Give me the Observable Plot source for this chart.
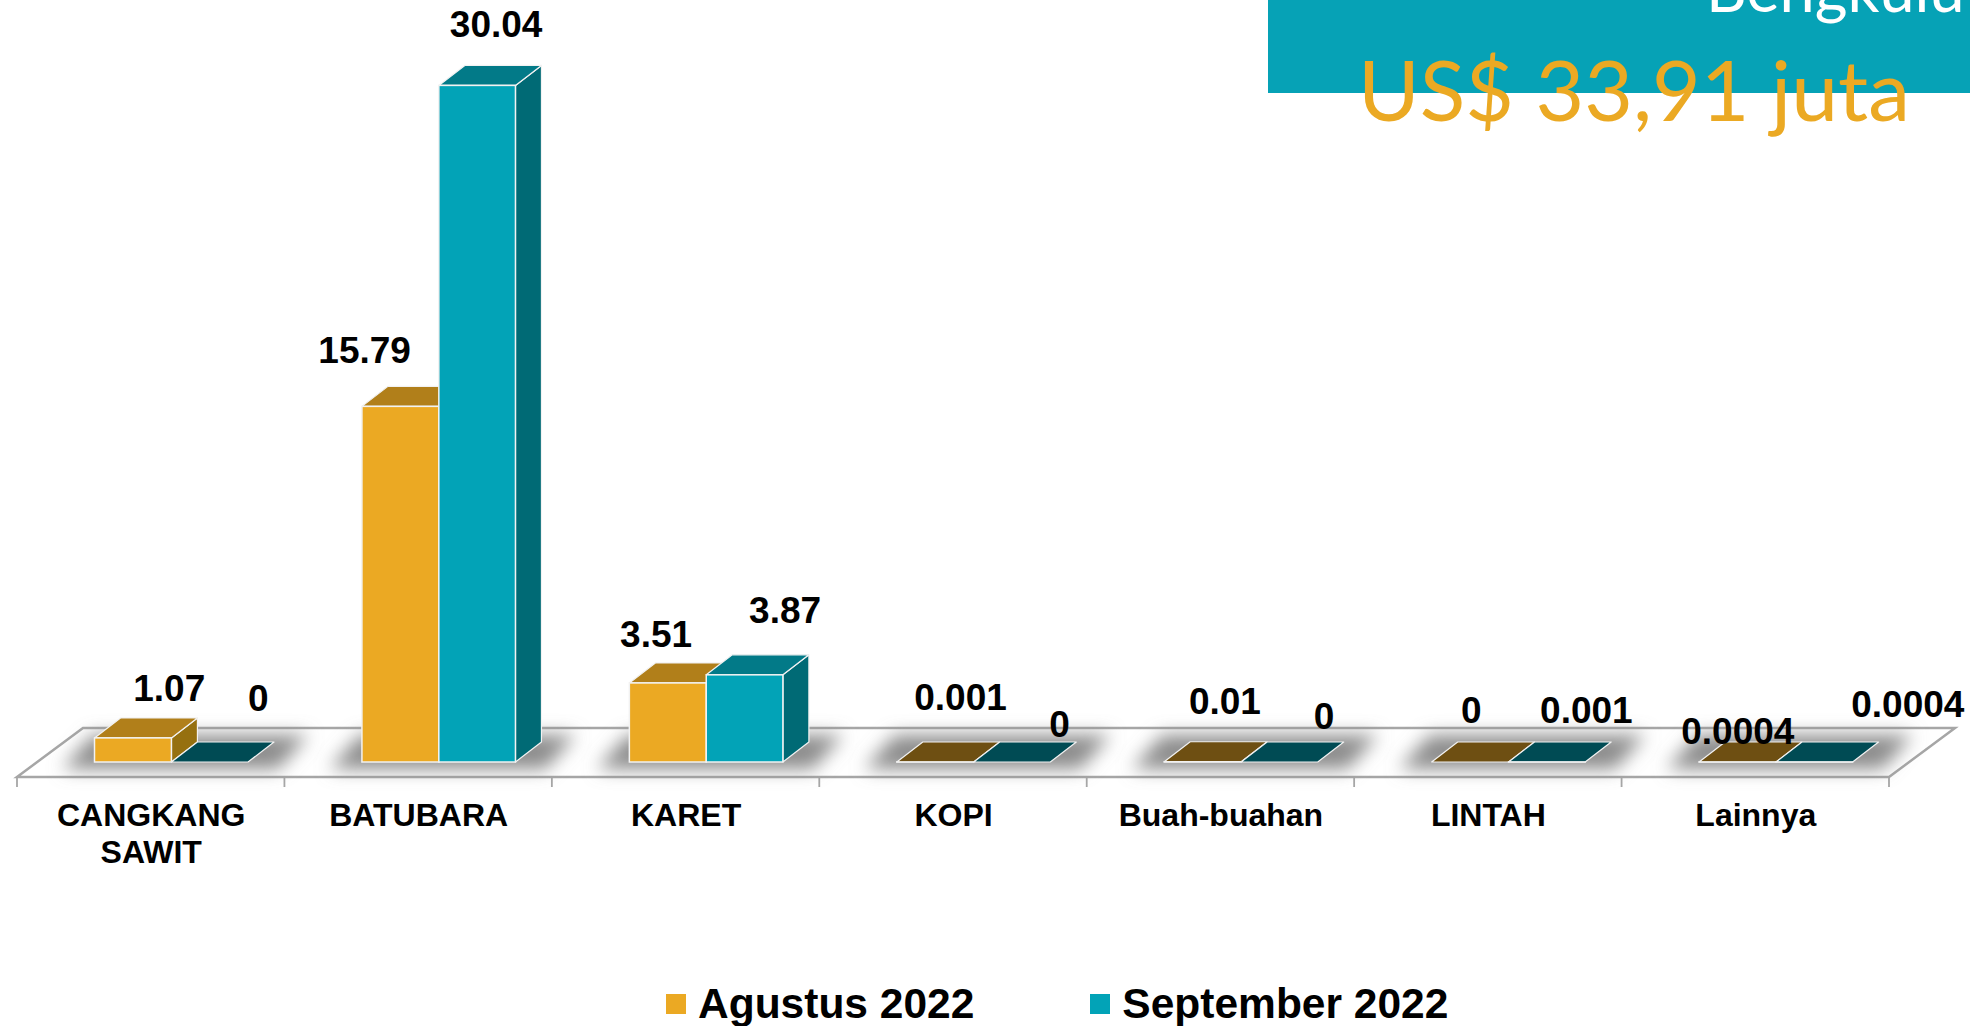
<!DOCTYPE html>
<html>
<head>
<meta charset="utf-8">
<script src="https://cdn.jsdelivr.net/npm/d3@7"></script>
<script src="https://cdn.jsdelivr.net/npm/@observablehq/plot@0.6"></script>
<style>
  html, body { margin: 0; padding: 0; background: #fff; overflow: hidden; width: 1970px; height: 1026px; }
  #chart svg { display: block; }
  #banner { position: absolute; left: 1268px; top: 0; width: 702px; height: 93px; background: #06a2b6; overflow: hidden; }
  #region { position: absolute; white-space: nowrap; font-family: Lato, sans-serif; font-weight: 400; line-height: 1; left: 438px; top: -44px; font-size: 63px; color: #fff; }
  #total { position: absolute; white-space: nowrap; font-family: Lato, sans-serif; font-weight: 400; line-height: 1; left: 1358px; top: 47px; font-size: 84px; color: #eba923; }
  #legend { display: flex; align-items: center; height: 56px; margin-top: 6px; padding-left: 666px; font: bold 42.5px "Liberation Sans", Arial, sans-serif; color: #000; }
  #legend .sw { width: 20px; height: 20px; margin-right: 12px; }
</style>
</head>
<body>
<div id="chart"></div>
<div id="legend"></div>
<div id="banner"><div id="region">Bengkulu</div></div>
<div id="total">US$ 33,91 juta</div>
<script>
const categories = ["CANGKANG SAWIT", "BATUBARA", "KARET", "KOPI", "Buah-buahan", "LINTAH", "Lainnya"];
const agustus = [1.07, 15.79, 3.51, 0.001, 0.01, 0, 0.0004];
const september = [0, 30.04, 3.87, 0, 0, 0.001, 0.0004];
const agustusLabels = ["1.07", "15.79", "3.51", "0.001", "0.01", "0", "0.0004"];
const septemberLabels = ["0", "30.04", "3.87", "0", "0", "0.001", "0.0004"];
const seriesNames = ["Agustus 2022", "September 2022"];

// Label placement, relative to each bar's band centre and value.
const agustusOffsets = [[18, -48.5], [-54, -55.5], [-30, -47.5], [7, -64], [4, -60], [-17, -51], [-18, -30]];
const septemberOffsets = [[107, -62.5], [77.5, -60], [99, -63.4], [106, -37], [103, -45], [98, -51], [152, -57]];

const colors = {
  a: {front: "#eba923", top: "#b17f1a", side: "#96700f", flat: "#6e4f12"},
  s: {front: "#02a3b7", top: "#027a88", side: "#006a75", flat: "#004b54"}
};
const depthX = 26, depthY = 20;
const insets = {a: [77.5, 113], s: [154.4, 36.4]};
const edge = "#f2f2f2";

const rowsA = categories.map((c, i) => ({c, v: agustus[i]}));
const rowsS = categories.map((c, i) => ({c, v: september[i]}));

function floorMark(index, {x, y}) {
  const g = d3.create("svg:g");
  const d = x.domain();
  const bw = x.bandwidth();
  const left = x(d[0]), right = x(d[d.length - 1]) + bw;
  const front = y(0) + 15, back = y(0) - 34, slant = 66;
  g.append("path")
    .attr("d", `M${left},${front}L${right},${front}L${right + slant},${back}L${left + slant},${back}Z`)
    .attr("fill", "#fff").attr("stroke", "#a6a6a6").attr("stroke-width", 2.5).attr("stroke-linejoin", "miter");
  d.forEach(c => {
    g.append("line").attr("x1", x(c)).attr("x2", x(c)).attr("y1", front).attr("y2", front + 10)
      .attr("stroke", "#a6a6a6").attr("stroke-width", 1.8);
  });
  g.append("line").attr("x1", right).attr("x2", right).attr("y1", front).attr("y2", front + 10)
    .attr("stroke", "#a6a6a6").attr("stroke-width", 1.8);
  return g.node();
}

function shadowMark(index, {x, y}) {
  const g = d3.create("svg:g");
  const f = g.append("defs").append("filter").attr("id", "floorShadow")
    .attr("x", "-30%").attr("y", "-200%").attr("width", "160%").attr("height", "500%");
  f.append("feGaussianBlur").attr("stdDeviation", 9);
  const base = y(0);
  categories.forEach(c => {
    const l = x(c) + insets.a[0], r = x(c) + x.bandwidth() - insets.s[1];
    g.append("path")
      .attr("d", `M${l - 32},${base + 7}L${r + 30},${base + 7}L${r + 60},${base - 27}L${l - 2},${base - 27}Z`)
      .attr("fill", "#8c8c8c").attr("filter", "url(#floorShadow)");
  });
  return g.node();
}

function extrude(rows, key) {
  return function (index, {x, y}) {
    const g = d3.create("svg:g");
    const [il, ir] = insets[key];
    const col = colors[key];
    rows.forEach(({c, v}) => {
      const l = x(c) + il, r = x(c) + x.bandwidth() - ir, t = y(v), b = y(0);
      const flat = v < 0.1;
      if (!flat) {
        g.append("path")
          .attr("d", `M${r},${t}L${r + depthX},${t - depthY}L${r + depthX},${b - depthY}L${r},${b}Z`)
          .attr("fill", col.side).attr("stroke", edge).attr("stroke-width", 1.2).attr("stroke-linejoin", "round");
      }
      g.append("path")
        .attr("d", `M${l},${t}L${r},${t}L${r + depthX},${t - depthY}L${l + depthX},${t - depthY}Z`)
        .attr("fill", flat ? col.flat : col.top).attr("stroke", edge).attr("stroke-width", 1.2).attr("stroke-linejoin", "round");
    });
    return g.node();
  };
}

const font = '"Liberation Sans", Arial, sans-serif';
const labelMarks = (rows, labels, offsets) => rows.map((r, i) =>
  Plot.text([r], {
    x: "c", y: "v", text: () => labels[i],
    dx: offsets[i][0], dy: offsets[i][1] - 0.5,
    fontFamily: font, fontWeight: "bold", fontSize: 37, fill: "#000"
  }));

const chart = Plot.plot({
  width: 1970,
  height: 970,
  marginTop: 0,
  marginLeft: 17,
  marginRight: 81,
  marginBottom: 183,
  x: {type: "band", domain: categories, padding: 0, round: false, label: null},
  y: {type: "linear", domain: [0, 30.04], range: [762, 85.4], axis: null, label: null},
  style: {background: "transparent"},
  marks: [
    floorMark,
    shadowMark,
    extrude(rowsA, "a"),
    Plot.barY(rowsA, {x: "c", y: "v", fill: colors.a.front, stroke: edge, strokeWidth: 1.5, insetLeft: insets.a[0], insetRight: insets.a[1]}),
    extrude(rowsS, "s"),
    Plot.barY(rowsS, {x: "c", y: "v", fill: colors.s.front, stroke: edge, strokeWidth: 1.5, insetLeft: insets.s[0], insetRight: insets.s[1]}),
    Plot.axisX({
      anchor: "bottom", tickSize: 0, tickPadding: 12, label: null,
      tickFormat: d => d.replace(" ", "\n"),
      fontFamily: font, fontWeight: "bold", fontSize: 32, lineHeight: 1.16, fill: "#000"
    }),
    ...labelMarks(rowsA, agustusLabels, agustusOffsets),
    ...labelMarks(rowsS, septemberLabels, septemberOffsets)
  ]
});
document.getElementById("chart").appendChild(chart);

const legend = d3.select("#legend");
[[seriesNames[0], colors.a.front, 116], [seriesNames[1], colors.s.front, 0]].forEach(([name, color, gap]) => {
  legend.append("span").attr("class", "sw").style("background", color);
  legend.append("span").style("margin-right", gap + "px").text(name);
});
</script>
</body>
</html>
